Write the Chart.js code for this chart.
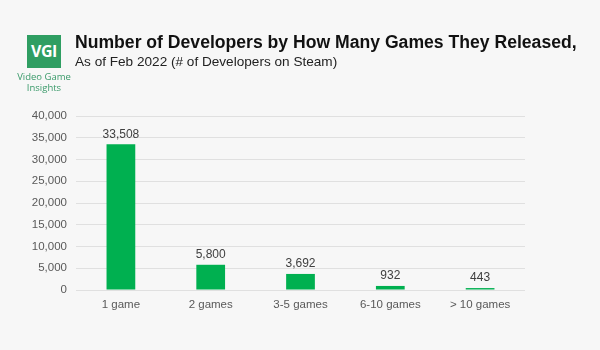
<!DOCTYPE html>
<html>
<head>
<meta charset="utf-8">
<script src="https://cdn.jsdelivr.net/npm/chart.js@4"></script>
<style>
  html, body { margin:0; padding:0; background:#f7f7f7; }
  #wrap { position:relative; width:600px; height:350px; background:#f7f7f7; overflow:hidden; font-family:"Liberation Sans", Arial, sans-serif; }
  #c { position:absolute; left:0; top:0; }
  #logo { position:absolute; left:27px; top:35px; width:34px; height:33px; background:#2f9e62; color:#fff; font:bold 16px "Open Sans", "Liberation Sans", sans-serif; text-align:center; line-height:33px; letter-spacing:-0.5px; }
  #logotxt { position:absolute; left:12px; top:71px; width:64px; text-align:center; color:#3a9a6a; font:9.5px "Open Sans", "Liberation Sans", sans-serif; line-height:11px; }
  #title { position:absolute; left:75px; top:32px; font:bold 17.6px "Liberation Sans", Arial, sans-serif; color:#111; white-space:nowrap; }
  #sub { position:absolute; left:75px; top:54px; font:13.6px "Liberation Sans", Arial, sans-serif; color:#222; white-space:nowrap; }
</style>
</head>
<body>
<div id="wrap">
  <canvas id="c" width="600" height="350"></canvas>
  <div id="logo">VGI</div>
  <div id="logotxt">Video Game<br>Insights</div>
  <div id="title">Number of Developers by How Many Games They Released,</div>
  <div id="sub">As of Feb 2022 (# of Developers on Steam)</div>
</div>
<script>
const categories = ["1 game", "2 games", "3-5 games", "6-10 games", "> 10 games"];
const developers = [33508, 5800, 3692, 932, 443];
const yTicks = [0, 5000, 10000, 15000, 20000, 25000, 30000, 35000, 40000];

const valueLabels = {
  id: 'valueLabels',
  afterDatasetsDraw(chart) {
    const ctx = chart.ctx;
    const meta = chart.getDatasetMeta(0);
    ctx.save();
    ctx.font = '12px "Liberation Sans", Arial, sans-serif';
    ctx.fillStyle = '#404040';
    ctx.textAlign = 'center';
    ctx.textBaseline = 'bottom';
    meta.data.forEach((bar, i) => {
      ctx.fillText(developers[i].toLocaleString('en-US'), bar.x, bar.y - 4);
    });
    ctx.restore();
  }
};

new Chart(document.getElementById('c'), {
  type: 'bar',
  data: {
    labels: categories,
    datasets: [{
      data: developers,
      backgroundColor: '#00b050',
      borderWidth: 0,
      barPercentage: 0.32,
      categoryPercentage: 1.0
    }]
  },
  options: {
    responsive: false,
    animation: false,
    devicePixelRatio: 1,
    layout: { padding: { top: 116, right: 75, bottom: 0, left: 0 } },
    plugins: { legend: { display: false }, tooltip: { enabled: false } },
    scales: {
      x: {
        grid: { display: false },
        border: { display: false },
        ticks: { color: '#595959', font: { size: 11.5, family: '"Liberation Sans", Arial, sans-serif' }, padding: 0 },
        afterFit(scale) { scale.height = 60; }
      },
      y: {
        min: 0, max: 40000,
        afterBuildTicks(scale) { scale.ticks = yTicks.map(v => ({ value: v })); },
        grid: { color: '#e0e0e0', lineWidth: 1, drawTicks: false },
        border: { display: false },
        ticks: {
          color: '#595959',
          font: { size: 11.5, family: '"Liberation Sans", Arial, sans-serif' },
          padding: 9,
          callback: v => Number(v).toLocaleString('en-US')
        },
        afterFit(scale) { scale.width = 76; }
      }
    }
  },
  plugins: [valueLabels]
});
</script>
</body>
</html>
